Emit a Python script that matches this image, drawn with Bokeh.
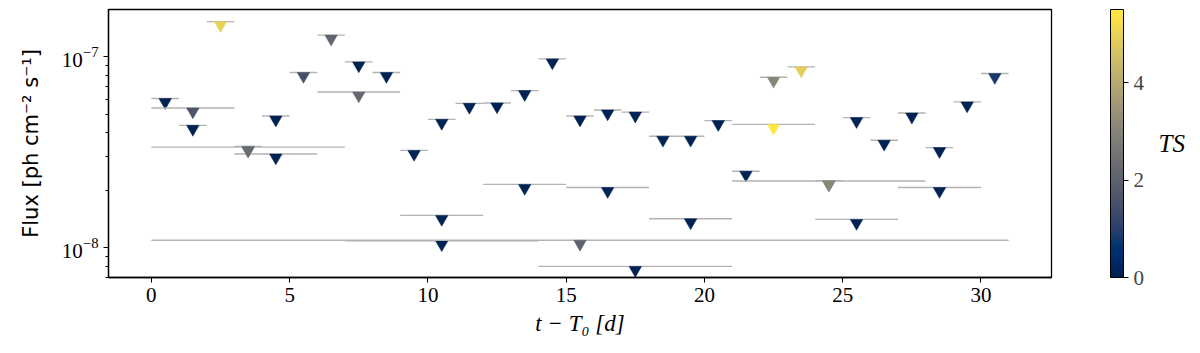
import math
from bokeh.plotting import figure
from bokeh.models import (ColumnDataSource, LinearColorMapper, ColorBar, FixedTicker,
                          Range1d, LinearAxis, LogTickFormatter)
from bokeh.palettes import Cividis256
from bokeh.transform import transform
from bokeh.embed import file_html
from bokeh.resources import INLINE

# ---------------- data ----------------
# daily bins (centre times, days since T0)
daily_t = [0.5, 1.5, 2.5, 3.5, 4.5, 5.5, 6.5, 7.5, 8.5, 9.5, 10.5, 11.5, 12.5, 13.5, 14.5,
           15.5, 16.5, 17.5, 18.5, 19.5, 20.5, 21.5, 22.5, 23.5, 24.5, 25.5, 26.5, 27.5,
           28.5, 29.5, 30.5]
daily_flux = [6.05e-8, 4.38e-8, 1.53e-7, 3.40e-8, 4.90e-8, 8.28e-8, 1.30e-7, 9.41e-8, 8.28e-8,
              3.24e-8, 4.71e-8, 5.71e-8, 5.74e-8, 6.66e-8, 9.76e-8, 4.90e-8, 5.27e-8, 5.14e-8,
              3.84e-8, 3.84e-8, 4.64e-8, 2.52e-8, 7.82e-8, 8.86e-8, 2.25e-8, 4.81e-8, 3.66e-8,
              5.08e-8, 3.35e-8, 5.81e-8, 8.18e-8]
daily_ts = [0.1, 0.1, 5.0, 0.0, 0.1, 1.5, 2.1, 0.1, 0.1, 0.1, 0.1, 0.1, 0.1, 0.1, 0.1,
            0.1, 0.1, 0.1, 0.1, 0.1, 0.1, 0.1, 3.0, 4.9, 0.0, 0.1, 0.1, 0.1, 0.1, 0.1, 0.8]
daily_halfwidth = 0.5

# three-day bins
threeday_t = [1.5, 4.5, 7.5, 10.5, 13.5, 16.5, 19.5, 22.5, 25.5, 28.5]
threeday_flux = [5.40e-8, 3.10e-8, 6.55e-8, 1.48e-8, 2.15e-8, 2.07e-8, 1.42e-8, 4.43e-8,
                 1.41e-8, 2.07e-8]
threeday_ts = [1.6, 0.1, 2.2, 0.1, 0.1, 0.1, 0.1, 5.5, 0.1, 0.1]
threeday_halfwidth = 1.5

# weekly bins
weekly_t = [3.5, 10.5, 17.5, 24.5]
weekly_flux = [3.37e-8, 1.09e-8, 8.0e-9, 2.24e-8]
weekly_ts = [2.3, 0.1, 0.1, 3.1]
weekly_halfwidth = 3.5

# full interval
all_t = [15.5]
all_flux = [1.096e-8]
all_ts = [2.0]
all_halfwidth = 15.5

ts_max = 5.5
y_lo, y_hi = 7.0e-9, 1.77e-7
x_lo, x_hi = -1.55, 32.55

# ---------------- figure ----------------
FW, FH = 943, 268
MARKER = 12.5

p = figure(frame_width=FW, frame_height=FH, y_axis_type="log",
           x_range=Range1d(x_lo, x_hi), y_range=Range1d(y_lo, y_hi),
           output_backend="svg", toolbar_location=None,
           min_border_left=108, min_border_right=140, min_border_top=9, min_border_bottom=66)
p.background_fill_color = "white"
p.border_fill_color = "white"
p.outline_line_color = "black"
p.outline_line_width = 1.3
p.xgrid.visible = False
p.ygrid.visible = False

mapper = LinearColorMapper(palette=Cividis256, low=0, high=ts_max)

# offset so that the triangle's flat top sits on the value
px_per_decade = FH / (math.log10(y_hi) - math.log10(y_lo))
base_offset_px = (MARKER / 2) * math.sqrt(3) / 3
shift = 10 ** (-base_offset_px / px_per_decade)

groups = [(daily_t, daily_flux, daily_ts, daily_halfwidth),
          (threeday_t, threeday_flux, threeday_ts, threeday_halfwidth),
          (weekly_t, weekly_flux, weekly_ts, weekly_halfwidth),
          (all_t, all_flux, all_ts, all_halfwidth)]

for t, f, ts, hw in groups:
    src = ColumnDataSource(dict(
        x0=[v - hw for v in t], x1=[v + hw for v in t], x=t, y=f,
        ym=[v * shift for v in f], ts=ts))
    p.segment(x0="x0", y0="y", x1="x1", y1="y", source=src,
              line_color="#b3b3b3", line_width=1.4)
    p.scatter(x="x", y="ym", source=src, marker="inverted_triangle", size=MARKER,
              fill_color=transform("ts", mapper), line_color=transform("ts", mapper),
              line_width=0.5)

# axes
serif = "Liberation Serif"
p.xaxis.ticker = FixedTicker(ticks=[0, 5, 10, 15, 20, 25, 30])
p.yaxis.ticker = FixedTicker(
    ticks=[1e-8, 1e-7],
    minor_ticks=[k * 1e-9 for k in range(2, 10)] + [k * 1e-8 for k in range(2, 10)]
    + [k * 1e-7 for k in range(2, 10)])
p.yaxis.formatter = LogTickFormatter()
for ax in (p.xaxis, p.yaxis):
    ax.axis_line_color = "black"
    ax.axis_line_width = 1.3
    ax.major_tick_line_color = "black"
    ax.minor_tick_line_color = "black"
    ax.major_tick_in = 0
    ax.major_tick_out = 5
    ax.minor_tick_in = 0
    ax.minor_tick_out = 3
    ax.major_label_text_font = serif
    ax.major_label_text_font_size = "21px"
    ax.major_label_text_color = "black"
    ax.axis_label_text_color = "black"
    ax.axis_label_text_font_style = "normal"
p.xaxis.minor_tick_line_color = None
p.xaxis.axis_label = "t − T₀ [d]"
p.xaxis.axis_label_text_font = serif
p.xaxis.axis_label_text_font_style = "italic"
p.xaxis.axis_label_text_font_size = "23px"
p.xaxis.axis_label_standoff = 6
p.yaxis.axis_label = "Flux [ph cm⁻² s⁻¹]"
p.yaxis.axis_label_text_font = "DejaVu Sans"
p.yaxis.axis_label_text_font_size = "21px"
p.yaxis.axis_label_standoff = 16

# colour bar
cb = ColorBar(color_mapper=mapper, width=13, height=FH, ticker=FixedTicker(ticks=[0, 2, 4]),
              major_label_text_font=serif, major_label_text_font_size="21px",
              major_tick_in=0, major_tick_out=5, major_tick_line_color="black",
              bar_line_color="black", bar_line_width=1, padding=0, margin=0,
              location=(59, 0), background_fill_color=None, border_line_color=None)
p.add_layout(cb, "right")

# colour-bar label (horizontal "TS") as an extra tickless axis on the right
ts_axis = LinearAxis(ticker=FixedTicker(ticks=[]), axis_line_color=None,
                     major_tick_line_color=None, minor_tick_line_color=None,
                     axis_label="TS", axis_label_text_font=serif,
                     axis_label_text_font_style="italic", axis_label_text_font_size="25px",
                     axis_label_text_color="black", axis_label_standoff=11,
                     axis_label_orientation="horizontal")
p.add_layout(ts_axis, "right")

open("out.html", "w").write(file_html(p, INLINE))
